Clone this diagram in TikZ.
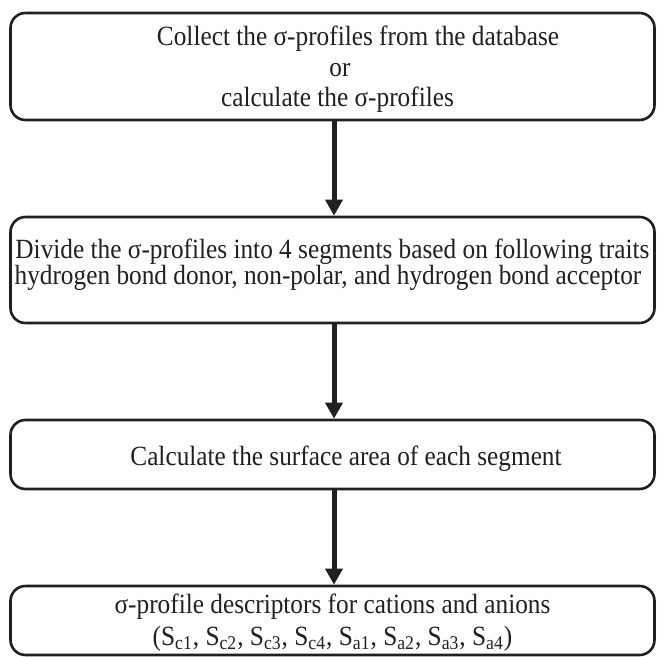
\documentclass[tikz,border=0pt]{standalone}
\usepackage{fontspec}
\setmainfont[FakeStretch=0.91]{Liberation Serif}
\usetikzlibrary{arrows.meta}
\definecolor{ink}{RGB}{35,31,32}
\newcommand{\topstrut}[1]{\rule{0pt}{#1}}
\newcommand{\botstrut}[1]{\rule[-#1]{0pt}{#1}}
\begin{document}
\begin{tikzpicture}[x=0.5pt,y=-0.5pt,
  stepbox/.style={draw=ink, line width=1.3pt, rounded corners=7.5pt, inner sep=0pt,
    minimum width=322pt, align=center, text=ink,
    font=\fontsize{13.9}{15.25}\selectfont},
  flow/.style={draw=ink, line width=2.5pt, -{Triangle[width=8.4pt,length=8pt]}}]
\useasboundingbox (0,0) rectangle (657,657);
\node[stepbox, minimum height=53.5pt] (b1) at (332.5,66.5)
  {\topstrut{13.7pt}\hspace*{25.5pt}Collect the σ-profiles from the database\\
   \hspace*{7.5pt}or\\
   \hspace*{5pt}calculate the σ-profiles\botstrut{4pt}};
\node[stepbox, minimum height=53pt, font=\fontsize{13.9}{13}\selectfont] (b2) at (332.5,270)
  {\topstrut{11pt}Divide the σ-profiles into 4 segments based on following traits\\
   hydrogen bond donor, non-polar, and hydrogen bond acceptor\hspace*{4.5pt}\botstrut{9pt}};
\node[stepbox, minimum height=34.5pt] (b3) at (332.5,454.5)
  {\topstrut{14pt}\hspace*{13.5pt}Calculate the surface area of each segment\botstrut{3.5pt}};
\node[stepbox, minimum height=34.5pt, font=\fontsize{13.9}{16}\selectfont] (b4) at (332.5,620.5)
  {\topstrut{12pt}σ-profile descriptors for cations and anions\\
   (S\textsubscript{c1}, S\textsubscript{c2}, S\textsubscript{c3}, S\textsubscript{c4}, S\textsubscript{a1}, S\textsubscript{a2}, S\textsubscript{a3}, S\textsubscript{a4})\botstrut{3.5pt}};
\draw[flow] ([xshift=0.75pt]b1.south) -- ([xshift=0.75pt]b2.north);
\draw[flow] ([xshift=0.75pt]b2.south) -- ([xshift=0.75pt]b3.north);
\draw[flow] ([xshift=0.75pt]b3.south) -- ([xshift=0.75pt]b4.north);
\end{tikzpicture}
\end{document}
